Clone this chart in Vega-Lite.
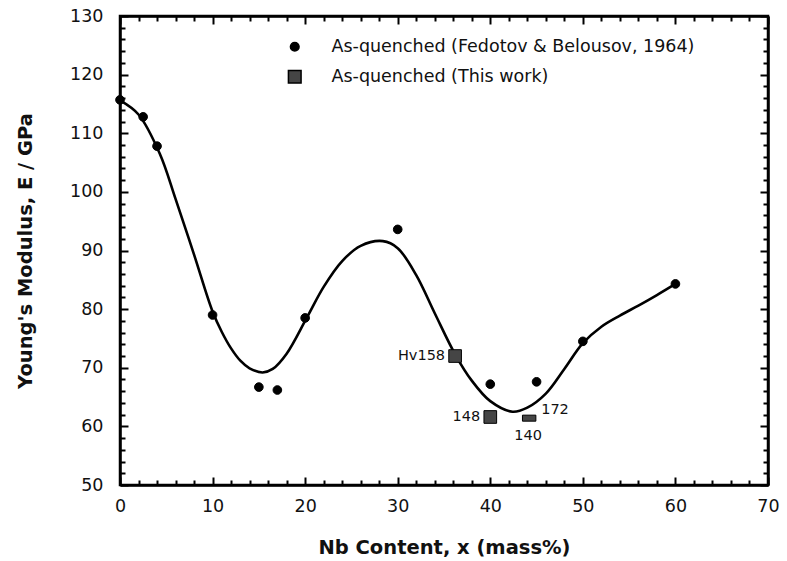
{
  "$schema": "https://vega.github.io/schema/vega-lite/v6.json",
  "width": 648,
  "height": 469,
  "autosize": {"type": "none"},
  "padding": {"left": 120, "top": 16, "right": 19, "bottom": 76},
  "background": "white",
  "config": {
    "view": {"stroke": "black", "strokeWidth": 2.5},
    "font": "DejaVu Sans",
    "axis": {
      "domainColor": "black",
      "domainWidth": 2.5,
      "tickColor": "black",
      "tickWidth": 2,
      "grid": false,
      "labelFont": "DejaVu Sans",
      "labelFontSize": 17.5,
      "labelColor": "#111",
      "titleFont": "DejaVu Sans",
      "titleFontSize": 19.5,
      "titleFontWeight": "bold",
      "titleColor": "#111"
    }
  },
  "datasets": {
    "curve": [
      {"x": 0, "E": 115.6}, {"x": 2, "E": 113.2}, {"x": 4.3, "E": 106.5}, {"x": 6, "E": 98.8},
      {"x": 8, "E": 89.3}, {"x": 10, "E": 79.6}, {"x": 11, "E": 76.1}, {"x": 12, "E": 73.3},
      {"x": 13, "E": 71.2}, {"x": 14, "E": 69.9}, {"x": 15.4, "E": 69.2}, {"x": 16.5, "E": 69.8},
      {"x": 18, "E": 72.4}, {"x": 20.2, "E": 78.6}, {"x": 22, "E": 83.8}, {"x": 24, "E": 88.2},
      {"x": 26, "E": 90.8}, {"x": 28.4, "E": 91.6}, {"x": 30, "E": 90.4}, {"x": 32, "E": 85.8},
      {"x": 34, "E": 79.3}, {"x": 36.2, "E": 72.3}, {"x": 38, "E": 67.8}, {"x": 40, "E": 64.3},
      {"x": 42.4, "E": 62.5}, {"x": 44, "E": 63.2}, {"x": 46, "E": 65.6}, {"x": 48, "E": 69.8},
      {"x": 50, "E": 74.2}, {"x": 52, "E": 77}, {"x": 54, "E": 78.9}, {"x": 56, "E": 80.6},
      {"x": 58, "E": 82.4}, {"x": 60, "E": 84.3}
    ],
    "points": [
      {"x": 0, "E": 115.7, "series": "As-quenched (Fedotov & Belousov, 1964)"},
      {"x": 2.5, "E": 112.8, "series": "As-quenched (Fedotov & Belousov, 1964)"},
      {"x": 4, "E": 107.8, "series": "As-quenched (Fedotov & Belousov, 1964)"},
      {"x": 10, "E": 79, "series": "As-quenched (Fedotov & Belousov, 1964)"},
      {"x": 15, "E": 66.7, "series": "As-quenched (Fedotov & Belousov, 1964)"},
      {"x": 17, "E": 66.2, "series": "As-quenched (Fedotov & Belousov, 1964)"},
      {"x": 20, "E": 78.5, "series": "As-quenched (Fedotov & Belousov, 1964)"},
      {"x": 30, "E": 93.6, "series": "As-quenched (Fedotov & Belousov, 1964)"},
      {"x": 40, "E": 67.2, "series": "As-quenched (Fedotov & Belousov, 1964)"},
      {"x": 45, "E": 67.6, "series": "As-quenched (Fedotov & Belousov, 1964)"},
      {"x": 50, "E": 74.5, "series": "As-quenched (Fedotov & Belousov, 1964)"},
      {"x": 60, "E": 84.3, "series": "As-quenched (Fedotov & Belousov, 1964)"},
      {"x": 36.2, "E": 72, "series": "As-quenched (This work)"},
      {"x": 40, "E": 61.6, "series": "As-quenched (This work)"}
    ],
    "flat": [{"x": 44.2, "E": 61.4}],
    "labels": [
      {"x": 36.2, "E": 72, "text": "Hv158", "pos": "left"},
      {"x": 40, "E": 61.6, "text": "148", "pos": "left"},
      {"x": 44.2, "E": 61.4, "text": "172", "pos": "upright"},
      {"x": 44.2, "E": 61.4, "text": "140", "pos": "below"}
    ]
  },
  "layer": [
    {
      "data": {"name": "curve"},
      "mark": {"type": "line", "interpolate": "catmull-rom", "color": "black", "strokeWidth": 2.6},
      "encoding": {
        "x": {
          "field": "x", "type": "quantitative",
          "scale": {"domain": [0, 70], "nice": false},
          "axis": {
            "orient": "bottom",
            "title": "Nb Content, x (mass%)",
            "titlePadding": 24,
            "values": [0,2,4,6,8,10,12,14,16,18,20,22,24,26,28,30,32,34,36,38,40,42,44,46,48,50,52,54,56,58,60,62,64,66,68,70],
            "labelExpr": "datum.value % 10 === 0 ? datum.label : ''",
            "tickSize": {"condition": {"test": "datum.value % 10 === 0", "value": -8}, "value": -5},
            "labelPadding": 20,
            "labelFlush": false
          }
        },
        "y": {
          "field": "E", "type": "quantitative",
          "scale": {"domain": [50, 130], "nice": false},
          "axis": {
            "orient": "left",
            "title": "Young's Modulus,  E / GPa",
            "titlePadding": 34,
            "values": [50,52,54,56,58,60,62,64,66,68,70,72,74,76,78,80,82,84,86,88,90,92,94,96,98,100,102,104,106,108,110,112,114,116,118,120,122,124,126,128,130],
            "labelExpr": "datum.value % 10 === 0 ? datum.label : ''",
            "tickSize": {"condition": {"test": "datum.value % 10 === 0", "value": -8}, "value": -5},
            "labelPadding": 25,
            "labelFlush": false
          }
        }
      }
    },
    {
      "data": {"name": "points"},
      "mark": {"type": "point", "filled": true, "stroke": "black", "strokeWidth": 1, "opacity": 1},
      "encoding": {
        "x": {
          "field": "x", "type": "quantitative",
          "axis": {
            "orient": "top", "title": null, "labels": false,
            "values": [0,2,4,6,8,10,12,14,16,18,20,22,24,26,28,30,32,34,36,38,40,42,44,46,48,50,52,54,56,58,60,62,64,66,68,70],
            "tickSize": {"condition": {"test": "datum.value % 10 === 0", "value": -8}, "value": -5}
          }
        },
        "y": {
          "field": "E", "type": "quantitative",
          "axis": {
            "orient": "right", "title": null, "labels": false,
            "values": [50,52,54,56,58,60,62,64,66,68,70,72,74,76,78,80,82,84,86,88,90,92,94,96,98,100,102,104,106,108,110,112,114,116,118,120,122,124,126,128,130],
            "tickSize": {"condition": {"test": "datum.value % 10 === 0", "value": -8}, "value": -5}
          }
        },
        "shape": {
          "field": "series", "type": "nominal",
          "scale": {"domain": ["As-quenched (Fedotov & Belousov, 1964)", "As-quenched (This work)"], "range": ["circle", "square"]},
          "legend": {
            "title": null, "orient": "none", "legendX": 166, "legendY": 22,
            "labelFont": "DejaVu Sans", "labelFontSize": 17.5, "labelColor": "#111", "labelLimit": 0,
            "labelOffset": 28, "rowPadding": 11, "symbolStrokeColor": "black"
          }
        },
        "fill": {
          "field": "series", "type": "nominal",
          "scale": {"domain": ["As-quenched (Fedotov & Belousov, 1964)", "As-quenched (This work)"], "range": ["black", "#454545"]}
        },
        "color": {
          "field": "series", "type": "nominal",
          "scale": {"domain": ["As-quenched (Fedotov & Belousov, 1964)", "As-quenched (This work)"], "range": ["black", "#454545"]}
        },
        "size": {
          "field": "series", "type": "nominal",
          "scale": {"domain": ["As-quenched (Fedotov & Belousov, 1964)", "As-quenched (This work)"], "range": [75, 160]}
        }
      }
    },
    {
      "data": {"name": "flat"},
      "mark": {"type": "point", "filled": true, "fill": "#454545", "stroke": "black", "strokeWidth": 1, "opacity": 1,
               "shape": "M-1,-0.45L1,-0.45L1,0.45L-1,0.45Z", "size": 180},
      "encoding": {
        "x": {"field": "x", "type": "quantitative", "axis": null},
        "y": {"field": "E", "type": "quantitative", "axis": null}
      }
    },
    {
      "data": {"name": "labels"},
      "transform": [{"filter": "datum.pos === 'left'"}],
      "mark": {"type": "text", "align": "right", "baseline": "middle", "dx": -10, "fontSize": 14.5, "font": "DejaVu Sans", "color": "#111"},
      "encoding": {
        "x": {"field": "x", "type": "quantitative", "axis": null},
        "y": {"field": "E", "type": "quantitative", "axis": null},
        "text": {"field": "text"}
      }
    },
    {
      "data": {"name": "labels"},
      "transform": [{"filter": "datum.pos === 'upright'"}],
      "mark": {"type": "text", "align": "left", "baseline": "middle", "dx": 12, "dy": -8, "fontSize": 14.5, "font": "DejaVu Sans", "color": "#111"},
      "encoding": {
        "x": {"field": "x", "type": "quantitative", "axis": null},
        "y": {"field": "E", "type": "quantitative", "axis": null},
        "text": {"field": "text"}
      }
    },
    {
      "data": {"name": "labels"},
      "transform": [{"filter": "datum.pos === 'below'"}],
      "mark": {"type": "text", "align": "center", "baseline": "middle", "dx": -1, "dy": 18, "fontSize": 14.5, "font": "DejaVu Sans", "color": "#111"},
      "encoding": {
        "x": {"field": "x", "type": "quantitative", "axis": null},
        "y": {"field": "E", "type": "quantitative", "axis": null},
        "text": {"field": "text"}
      }
    }
  ],
  "resolve": {"axis": {"x": "independent", "y": "independent"}}
}
